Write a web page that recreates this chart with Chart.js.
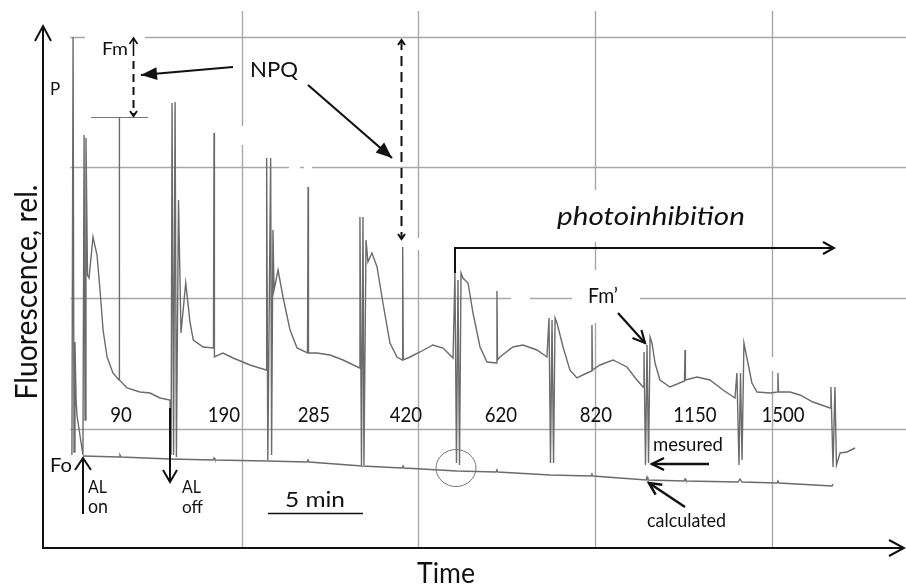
<!DOCTYPE html>
<html>
<head>
<meta charset="utf-8">
<script src="https://cdn.jsdelivr.net/npm/chart.js@4.4.1/dist/chart.umd.min.js"></script>
<style>
  html, body { margin: 0; background: #fff; }
  #wrap { width: 906px; height: 585px; }
</style>
</head>
<body>
<div id="wrap"><canvas id="c"></canvas></div>
<script>
// time in min from the first flash, fluorescence in relative units
const gridT = [8.84, 18.1, 27.42, 36.74];
const gridF = [1.19, 2.5, 3.81, 5.11];

const traceT = [
  -0.11, -0.05, 0.00, 0.05, 0.11, 0.16, 0.47, 0.53, 0.58, 0.63, 0.71, 0.79,
  1.00, 1.21, 1.37, 1.53, 1.74, 2.05, 2.37, 2.38, 2.40, 2.79, 3.47, 4.00,
  4.53, 5.05, 5.11, 5.16, 5.24, 5.32, 5.39, 5.50, 5.63, 5.88, 6.11, 6.28,
  6.79, 7.34, 7.37, 7.39, 7.84, 8.37, 9.26, 10.11, 10.14, 10.20, 10.35, 10.40,
  10.47, 10.53, 10.74, 11.00, 11.37, 11.74, 12.29, 12.32, 12.34, 12.79, 13.47, 14.16,
  15.03, 15.05, 15.13, 15.21, 15.26, 15.37, 15.47, 15.68, 15.95, 16.26, 16.63, 17.00,
  17.28, 17.30, 17.33, 17.68, 18.21, 18.89, 19.42, 19.95, 20.05, 20.13, 20.21, 20.29,
  20.37, 20.47, 20.74, 21.00, 21.37, 21.74, 22.24, 22.26, 22.29, 22.42, 23.10, 23.63,
  24.37, 24.89, 25.00, 25.08, 25.16, 25.24, 25.32, 25.42, 25.74, 26.10, 26.47, 27.00,
  27.24, 27.26, 27.29, 27.68, 28.37, 29.10, 29.63, 29.95, 30.00, 30.08, 30.16, 30.24,
  30.32, 30.42, 30.58, 30.84, 31.37, 32.13, 32.16, 32.18, 32.79, 33.47, 34.16, 34.79,
  34.89, 35.00, 35.08, 35.16, 35.26, 35.47, 35.68, 35.95, 36.63, 37.03, 37.05, 37.08,
  37.68, 38.21, 38.89, 39.79, 39.84, 39.95, 40.05, 40.13, 40.32, 40.68, 41.11
];
const traceF = [
  0.93, 5.11, 0.96, 2.06, 1.48, 1.32, 0.93, 4.13, 1.28, 4.10, 2.73, 2.70,
  3.11, 2.93, 2.58, 2.18, 1.91, 1.75, 1.68, 4.30, 1.68, 1.60, 1.56, 1.55,
  1.50, 1.48, 0.93, 4.45, 0.93, 4.46, 0.91, 3.48, 2.15, 2.65, 2.25, 2.08,
  2.01, 2.00, 4.15, 1.91, 1.95, 1.90, 1.83, 1.78, 3.90, 0.88, 3.90, 0.93,
  3.18, 2.58, 2.78, 2.51, 2.18, 2.00, 1.95, 3.61, 1.95, 1.95, 1.93, 1.88,
  1.80, 3.31, 0.83, 3.31, 0.83, 3.08, 2.86, 2.95, 2.81, 2.45, 2.05, 1.91,
  1.88, 3.01, 1.88, 1.91, 1.96, 2.03, 2.00, 1.90, 2.75, 0.85, 2.68, 0.83,
  2.75, 2.70, 2.65, 2.35, 2.01, 1.86, 1.85, 2.57, 1.88, 1.91, 2.01, 2.03,
  1.98, 1.91, 2.30, 0.85, 2.28, 0.85, 2.30, 2.25, 2.01, 1.78, 1.70, 1.75,
  1.77, 2.23, 1.78, 1.83, 1.88, 1.81, 1.68, 1.61, 1.96, 0.83, 2.03, 0.85,
  2.11, 2.05, 1.85, 1.68, 1.61, 1.67, 1.98, 1.68, 1.71, 1.68, 1.58, 1.50,
  1.75, 0.83, 1.75, 0.88, 2.05, 1.85, 1.65, 1.56, 1.55, 1.56, 1.75, 1.56,
  1.56, 1.53, 1.46, 1.40, 1.61, 0.81, 1.61, 0.83, 0.95, 0.96, 1.00
];

// calculated Fo line
const baseT = [
  0.47, 2.37, 2.42, 2.47, 5.05, 7.32, 7.37, 7.42, 10.16, 12.27, 12.32, 12.37,
  15.16, 17.27, 17.32, 17.37, 20.16, 22.21, 22.26, 22.31, 25.05, 27.21, 27.26, 27.31,
  30.11, 30.16, 30.21, 32.11, 32.16, 32.21, 34.95, 35.05, 35.15, 37.00, 37.05, 37.10,
  39.90, 39.95
];
const baseF = [
  0.92, 0.91, 0.93, 0.91, 0.89, 0.88, 0.90, 0.88, 0.87, 0.86, 0.88, 0.86,
  0.82, 0.80, 0.82, 0.80, 0.77, 0.76, 0.78, 0.76, 0.73, 0.72, 0.74, 0.72,
  0.68, 0.71, 0.68, 0.67, 0.69, 0.67, 0.66, 0.69, 0.66, 0.65, 0.67, 0.65,
  0.62, 0.64
];

// actinic light intensities of each period
const intensities = ['90', '190', '285', '420', '620', '820', '1150', '1500'];
const intensityT = [2.47, 7.89, 12.63, 17.47, 22.47, 27.47, 32.68, 37.32];

const FONT = 'Lato, "Open Sans", sans-serif';
const INK = '#111';

function pairs(xs, ys) {
  return xs.map((x, i) => ({ x: x, y: ys[i] }));
}

// size sets the glyph height, width (optional) squeezes the run to the measured length
function text(ctx, str, x, y, o) {
  const style = o.italic ? 'italic ' : '';
  ctx.save();
  ctx.font = style + o.size + 'px ' + FONT;
  ctx.fillStyle = INK;
  ctx.textBaseline = 'alphabetic';
  ctx.textAlign = 'left';
  const w = ctx.measureText(str).width;
  const k = o.width ? o.width / w : 1;
  let left = x;
  if (o.align === 'center') left = x - w * k / 2;
  ctx.translate(left, y);
  ctx.scale(k, 1);
  ctx.fillText(str, 0, 0);
  ctx.restore();
}

function head(ctx, x1, y1, x2, y2, len, half, filled) {
  const a = Math.atan2(y2 - y1, x2 - x1);
  const ux = Math.cos(a), uy = Math.sin(a);
  const bx = x2 - ux * len, by = y2 - uy * len;
  const nx = -uy * half, ny = ux * half;
  ctx.setLineDash([]);
  ctx.beginPath();
  ctx.moveTo(bx + nx, by + ny);
  ctx.lineTo(x2, y2);
  ctx.lineTo(bx - nx, by - ny);
  if (filled) { ctx.closePath(); ctx.fill(); } else { ctx.stroke(); }
}

function arrow(ctx, pts, o) {
  o = o || {};
  ctx.strokeStyle = INK;
  ctx.fillStyle = INK;
  ctx.lineWidth = o.lw || 2;
  ctx.lineCap = 'butt';
  ctx.lineJoin = 'miter';
  ctx.setLineDash(o.dash || []);
  ctx.beginPath();
  ctx.moveTo(pts[0][0], pts[0][1]);
  for (let i = 1; i < pts.length; i++) ctx.lineTo(pts[i][0], pts[i][1]);
  ctx.stroke();
  const n = pts.length;
  if (o.len) head(ctx, pts[n - 2][0], pts[n - 2][1], pts[n - 1][0], pts[n - 1][1], o.len, o.half, o.filled);
  if (o.startLen) head(ctx, pts[1][0], pts[1][1], pts[0][0], pts[0][1], o.startLen, o.startHalf, false);
  ctx.setLineDash([]);
}

const decor = {
  id: 'decor',
  beforeDatasetsDraw(chart) {
    const ctx = chart.ctx, xs = chart.scales.x, ys = chart.scales.y, ca = chart.chartArea;
    ctx.save();
    ctx.strokeStyle = '#a8a8a8';
    ctx.lineWidth = 1.4;
    gridT.forEach(v => {
      const x = Math.round(xs.getPixelForValue(v)) + 0.5;
      ctx.beginPath(); ctx.moveTo(x, ca.top); ctx.lineTo(x, ca.bottom); ctx.stroke();
    });
    const left = xs.getPixelForValue(-0.2);
    gridF.forEach(v => {
      const y = Math.round(ys.getPixelForValue(v)) + 0.5;
      ctx.beginPath(); ctx.moveTo(left, y); ctx.lineTo(ca.right, y); ctx.stroke();
    });
    // breaks in the grid around the labels
    ctx.fillStyle = '#fff';
    [[85, 30, 60, 14], [236, 126, 12, 19], [289, 162, 11, 10], [304, 162, 8, 10],
     [589, 190, 12, 52], [589, 270, 12, 53], [511, 292, 19, 12], [572, 292, 68, 12],
     [766, 357, 12, 14], [412, 238, 12, 12]].forEach(r => ctx.fillRect(r[0], r[1], r[2], r[3]));
    ctx.restore();
  },
  afterDatasetsDraw(chart) {
    const ctx = chart.ctx, xs = chart.scales.x;
    ctx.save();

    // axes
    arrow(ctx, [[43, 549], [43, 26]], { lw: 2, len: 15, half: 8 });
    arrow(ctx, [[42, 548], [904, 548]], { lw: 2, len: 15, half: 8 });

    // Fm' level marker and NPQ arrows
    ctx.strokeStyle = '#777';
    ctx.lineWidth = 1.2;
    ctx.beginPath(); ctx.moveTo(91, 117.5); ctx.lineTo(148, 117.5); ctx.stroke();
    arrow(ctx, [[133.5, 56], [133.5, 38]], { lw: 1.6, len: 6, half: 4 });
    arrow(ctx, [[133.5, 61], [133.5, 116]], { lw: 2, dash: [8, 5], len: 5, half: 3.5 });
    arrow(ctx, [[401.5, 40], [401.5, 239]], { lw: 2, dash: [10, 6], len: 5, half: 3.5, startLen: 5, startHalf: 3.5 });
    arrow(ctx, [[233, 67], [141, 75]], { lw: 2.2, len: 16, half: 6.5, filled: true });
    arrow(ctx, [[308, 85], [392, 158]], { lw: 2.2, len: 16, half: 6.5, filled: true });

    // photoinhibition bracket
    arrow(ctx, [[455, 273], [455, 248], [834, 248]], { lw: 2, len: 11, half: 6 });

    // Fm', measured and calculated pointers
    arrow(ctx, [[618, 313], [645, 343]], { lw: 2.2, len: 12, half: 6 });
    arrow(ctx, [[709, 464], [652, 464]], { lw: 2.5, len: 12, half: 6 });
    arrow(ctx, [[685, 507], [649, 483]], { lw: 2.5, len: 12, half: 6 });

    // actinic light on / off
    arrow(ctx, [[83, 514], [83, 458]], { lw: 2, len: 12, half: 8 });
    arrow(ctx, [[170, 408], [170, 482]], { lw: 2, len: 12, half: 7 });

    // 5 min scale bar
    ctx.strokeStyle = INK;
    ctx.lineWidth = 1.6;
    ctx.beginPath(); ctx.moveTo(268, 513.5); ctx.lineTo(363, 513.5); ctx.stroke();

    // circle around the calculated point
    ctx.strokeStyle = '#777';
    ctx.lineWidth = 1;
    ctx.beginPath(); ctx.ellipse(456, 468, 20, 18.5, 0, 0, Math.PI * 2); ctx.stroke();

    // labels
    text(ctx, 'P', 50, 95, { size: 17 });
    text(ctx, 'Fm', 102, 55, { size: 18, width: 26 });
    text(ctx, 'NPQ', 250, 77, { size: 21, width: 48 });
    text(ctx, 'photoinhibition', 557, 225, { size: 25, width: 188, italic: true });
    text(ctx, 'Fm\u2019', 588, 303, { size: 22, width: 30 });
    text(ctx, 'mesured', 653, 451, { size: 19, width: 70 });
    text(ctx, 'calculated', 647, 527, { size: 20, width: 79 });
    text(ctx, '5 min', 285, 507, { size: 22, width: 60 });
    text(ctx, 'Fo', 50, 472, { size: 19.5, width: 22 });
    text(ctx, 'AL', 88, 493, { size: 18, width: 19 });
    text(ctx, 'on', 88, 513, { size: 19, width: 20 });
    text(ctx, 'AL', 182, 493, { size: 18, width: 19 });
    text(ctx, 'off', 182, 513, { size: 18, width: 21 });

    intensities.forEach((s, i) => {
      text(ctx, s, xs.getPixelForValue(intensityT[i]), 422, { size: 21, width: s.length * 10.8, align: 'center' });
    });

    text(ctx, 'Time', 446, 583, { size: 29, width: 58, align: 'center' });
    ctx.translate(37, 292);
    ctx.rotate(-Math.PI / 2);
    text(ctx, 'Fluorescence, rel.', 0, 0, { size: 30, width: 215, align: 'center' });

    ctx.restore();
  }
};

new Chart(document.getElementById('c'), {
  type: 'scatter',
  data: {
    datasets: [
      {
        label: 'measured',
        data: pairs(traceT, traceF),
        showLine: true,
        borderColor: '#6b6b6b',
        borderWidth: 1.4,
        pointRadius: 0,
        tension: 0
      },
      {
        label: 'calculated',
        data: pairs(baseT, baseF),
        showLine: true,
        borderColor: '#6b6b6b',
        borderWidth: 1.4,
        pointRadius: 0,
        tension: 0
      }
    ]
  },
  options: {
    responsive: true,
    maintainAspectRatio: false,
    animation: false,
    events: [],
    layout: { padding: { left: 43, top: 11, right: 0, bottom: 37 } },
    plugins: { legend: { display: false }, tooltip: { enabled: false } },
    scales: {
      x: { type: 'linear', min: -1.632, max: 43.79, display: false },
      y: { type: 'linear', min: 0, max: 5.37, display: false }
    }
  },
  plugins: [decor]
});
</script>
</body>
</html>
